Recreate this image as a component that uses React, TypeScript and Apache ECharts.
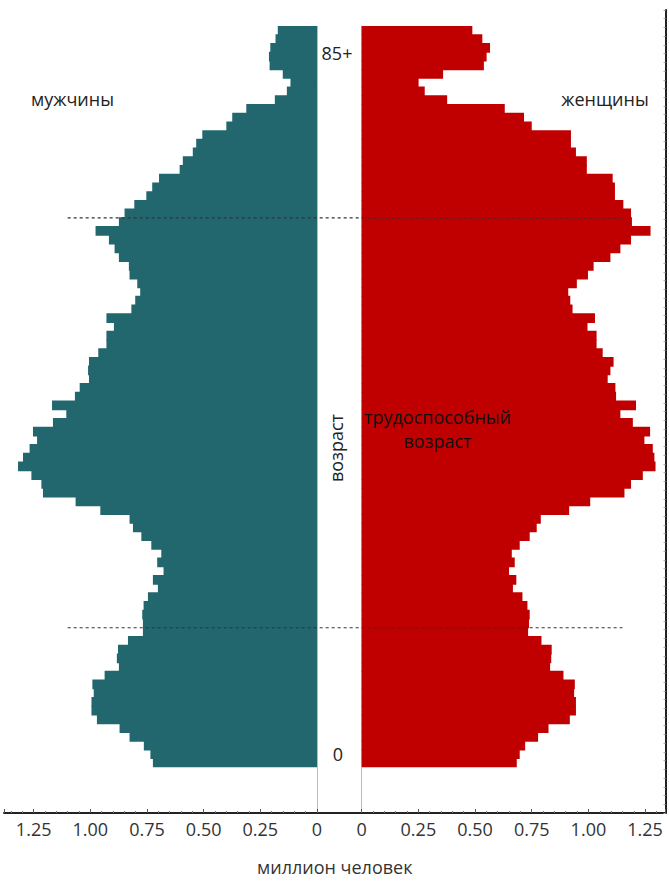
import React, { useEffect, useRef } from "react";
import * as echarts from "echarts";

// ages 0..84 from bottom to top (top bar is the "85+" end)
const ages: string[] = Array.from({ length: 85 }, (_, i) => String(i));

// million people, age 0 first
const maleValues: number[] = [
  0.724, 0.735, 0.764, 0.827, 0.871, 0.971, 0.995, 0.995, 0.985, 0.991,
  0.937, 0.874, 0.883, 0.878, 0.834, 0.768, 0.768, 0.771, 0.765, 0.746,
  0.702, 0.724, 0.677, 0.705, 0.687, 0.731, 0.775, 0.812, 0.827, 0.956,
  1.065, 1.209, 1.216, 1.26, 1.319, 1.297, 1.268, 1.235, 1.253, 1.165,
  1.106, 1.169, 1.068, 1.047, 1.006, 1.01, 1.006, 0.965, 0.929, 0.929,
  0.896, 0.929, 0.819, 0.802, 0.78, 0.793, 0.827, 0.83, 0.874, 0.893,
  0.918, 0.977, 0.874, 0.849, 0.806, 0.753, 0.727, 0.697, 0.606, 0.592,
  0.548, 0.533, 0.506, 0.4, 0.374, 0.312, 0.186, 0.133, 0.117, 0.151,
  0.209, 0.212, 0.206, 0.183, 0.173,
];

const femaleValues: number[] = [
  0.684, 0.697, 0.721, 0.778, 0.824, 0.918, 0.945, 0.945, 0.937, 0.94,
  0.89, 0.831, 0.836, 0.838, 0.793, 0.734, 0.738, 0.741, 0.731, 0.709,
  0.667, 0.682, 0.65, 0.675, 0.662, 0.697, 0.741, 0.772, 0.79, 0.915,
  1.008, 1.159, 1.188, 1.24, 1.296, 1.291, 1.284, 1.247, 1.272, 1.196,
  1.141, 1.21, 1.122, 1.119, 1.085, 1.097, 1.111, 1.063, 1.036, 1.036,
  0.996, 1.029, 0.93, 0.92, 0.911, 0.949, 0.998, 1.023, 1.097, 1.141,
  1.188, 1.274, 1.192, 1.188, 1.154, 1.117, 1.117, 1.107, 0.993, 0.993,
  0.945, 0.923, 0.923, 0.75, 0.716, 0.631, 0.377, 0.278, 0.251, 0.359,
  0.539, 0.551, 0.566, 0.532, 0.488,
];

// working age boundaries (lower edge of these age bars)
const workingAgeBounds: string[] = ["16", "63"];
const dashedExtent = { male: 1.1, female: 1.15 };

const MALE_MAX = 1.38;
const FEMALE_MAX = 1.34;
const FONT = "'Open Sans', 'Noto Sans', sans-serif";
const TEAL = "#22676E";
const RED = "#C00000";

const tickLabelFormatter = (v: number) => {
  if (v === 0) return "0";
  const q = v / 0.25;
  return Math.abs(q - Math.round(q)) < 1e-6 ? v.toFixed(2) : "";
};

const valueAxisHidden = (gridIndex: number, inverse: boolean, max: number) => ({
  gridIndex,
  type: "value",
  inverse,
  min: 0,
  max,
  show: false,
});

const labelAxis = (gridIndex: number, inverse: boolean, max: number) => ({
  gridIndex,
  type: "value",
  inverse,
  min: 0,
  max,
  interval: 0.25,
  axisLine: { show: false, onZero: false },
  axisTick: { show: true, inside: true, length: 4, lineStyle: { color: "#555", width: 1 } },
  minorTick: { show: true, splitNumber: 5, length: 2, lineStyle: { color: "#777", width: 1 } },
  splitLine: { show: false },
  minorSplitLine: { show: false },
  axisLabel: {
    show: true,
    fontSize: 18,
    fontFamily: FONT,
    color: "#333",
    margin: 7,
    showMaxLabel: false,
    formatter: tickLabelFormatter,
  },
});

export default function App() {
  const ref = useRef<HTMLDivElement>(null);

  useEffect(() => {
    if (!ref.current) return;
    const chart = echarts.init(ref.current, undefined, { renderer: "svg" });
    chart.setOption({
      animation: false,
      backgroundColor: "#fff",
      grid: [
        { left: 4.2, top: 26, width: 312.8, height: 741.3 },
        { left: 361.7, top: 26, width: 303.8, height: 741.3 },
        { left: 4.2, top: 26, width: 312.8, bottom: 68 },
        { left: 361.7, top: 26, width: 303.8, bottom: 68 },
        { left: 4, top: 10, width: 661.5, bottom: 68 },
      ],
      xAxis: [
        valueAxisHidden(0, true, MALE_MAX),
        valueAxisHidden(1, false, FEMALE_MAX),
        labelAxis(2, true, MALE_MAX),
        labelAxis(3, false, FEMALE_MAX),
        {
          gridIndex: 4,
          type: "value",
          min: 0,
          max: 1,
          axisLine: { show: true, onZero: false, lineStyle: { color: "#222", width: 2 } },
          axisTick: { show: false },
          axisLabel: { show: false },
          splitLine: { show: false },
          name: "миллион человек",
          nameLocation: "middle",
          nameGap: 45,
          nameTextStyle: { fontSize: 18, fontFamily: FONT, color: "#333" },
        },
      ],
      yAxis: [
        { gridIndex: 0, type: "category", data: ages, show: false },
        { gridIndex: 1, type: "category", data: ages, show: false },
        {
          gridIndex: 2,
          type: "value",
          position: "right",
          min: 0,
          max: 1,
          axisLine: { show: true, onZero: false, lineStyle: { color: "#bbb", width: 1 } },
          axisTick: { show: false },
          axisLabel: { show: false },
          splitLine: { show: false },
        },
        {
          gridIndex: 3,
          type: "value",
          position: "left",
          min: 0,
          max: 1,
          axisLine: { show: true, onZero: false, lineStyle: { color: "#bbb", width: 1 } },
          axisTick: { show: false },
          axisLabel: { show: false },
          splitLine: { show: false },
        },
        {
          gridIndex: 4,
          type: "value",
          position: "right",
          min: 0,
          max: 92,
          interval: 1,
          axisLine: { show: true, onZero: false, lineStyle: { color: "#222", width: 2 } },
          axisTick: { show: true, inside: true, length: 2, lineStyle: { color: "#aaa" } },
          axisLabel: { show: false },
          splitLine: { show: false },
        },
      ],
      series: [
        {
          name: "мужчины",
          type: "bar",
          xAxisIndex: 0,
          yAxisIndex: 0,
          data: maleValues,
          barWidth: "112%",
          itemStyle: { color: TEAL },
          silent: true,
        },
        {
          name: "женщины",
          type: "bar",
          xAxisIndex: 1,
          yAxisIndex: 1,
          data: femaleValues,
          barWidth: "112%",
          itemStyle: { color: RED },
          silent: true,
        },
      ],
    });

    const yOf = (age: string) => chart.convertToPixel({ yAxisIndex: 0 }, age) as number;
    const band = Math.abs(yOf("1") - yOf("0"));
    const x1 = chart.convertToPixel({ xAxisIndex: 0 }, dashedExtent.male) as number;
    const x2 = chart.convertToPixel({ xAxisIndex: 1 }, dashedExtent.female) as number;

    const textEl = (text: string, x: number, y: number, align = "center", fill = "#222", size = 18) => ({
      type: "text",
      x,
      y,
      z: 100,
      style: {
        text,
        fill,
        font: `${size}px ${FONT}`,
        align,
        verticalAlign: "middle",
      },
    });

    const lines = workingAgeBounds.map((age) => {
      const y = yOf(age) + band / 2;
      return {
        type: "line",
        z: 100,
        shape: { x1, y1: y, x2, y2: y },
        style: { stroke: "#333", lineWidth: 1.2, lineDash: [3, 3] },
      };
    });

    chart.setOption({
      graphic: {
        elements: [
          textEl("мужчины", 31, 99, "left"),
          textEl("женщины", 605, 99, "center"),
          textEl("85+", 337, 53),
          textEl("0", 338, 754),
          {
            type: "text",
            x: 336,
            y: 448,
            rotation: Math.PI / 2,
            z: 100,
            style: {
              text: "возраст",
              fill: "#222",
              font: `18px ${FONT}`,
              align: "center",
              verticalAlign: "middle",
            },
          },
          textEl("трудоспособный", 437.5, 417, "center", "#111"),
          textEl("возраст", 437.5, 441, "center", "#111"),
          ...lines,
        ],
      },
    });

    return () => chart.dispose();
  }, []);

  return (
    <div
      ref={ref}
      style={{ position: "absolute", left: 0, top: 0, width: 669, height: 881 }}
    />
  );
}
